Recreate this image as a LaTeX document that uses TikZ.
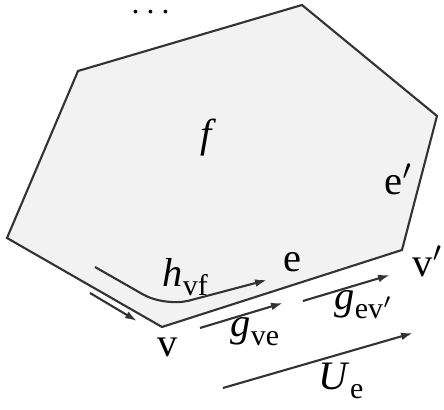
\documentclass[tikz,border=0pt]{standalone}
\usepackage{fontspec}
\setmainfont{Liberation Serif}
\usetikzlibrary{arrows.meta}
\newcommand{\lowsub}[1]{\raisebox{-0.45ex}{\fontsize{8.5}{9}\selectfont #1}}
\tikzset{
  lab/.style={inner sep=0pt, anchor=base west, font=\fontsize{11.5}{13}\selectfont},
  vec/.style={-{Latex[length=3.4pt,width=2.2pt]}, line width=0.6pt, black!80}
}
\begin{document}
\begin{tikzpicture}[x=0.01cm, y=-0.01cm]
\useasboundingbox (0,0) rectangle (444,410);
% face corners:
\coordinate (vl) at (7,238);
\coordinate (tl) at (78,71);
\coordinate (tp) at (302,5);
\coordinate (tr) at (437,116);
\coordinate (vp) at (402,250);
\coordinate (v) at (162,327);
\draw[line width=0.6pt, black!80, fill=black!5] (vl) -- (tl) -- (tp) -- (tr) -- (vp) -- (v) -- cycle;
% labels:
\node[lab, font=\fontsize{9}{10}\selectfont] (dots) at (131,14) {.\kern2pt.\kern2pt.};
\node[lab] (fl) at (200,148) {\textit{f}};
\node[lab] (epl) at (384,195) {e$'$};
\node[lab] (el) at (283,272) {e};
\node[lab] (vpl) at (412,277) {v$'$};
\node[lab] (vlab) at (157,357) {v};
\node[lab] (hl) at (162,287) {\textit{h}\lowsub{vf}};
\node[lab] (gvel) at (230,337) {\textit{g}\lowsub{ve}};
\node[lab] (gevl) at (334,310) {\textit{g}\lowsub{ev$'$}};
\node[lab] (ul) at (318,390) {\textit{U}\lowsub{e}};
% arrows:
\coordinate (a1) at (90,293);  \coordinate (b1) at (137,321);
\coordinate (a2) at (95,267);  \coordinate (k2) at (165,307); \coordinate (b2) at (267,280);
\coordinate (a3) at (200,328); \coordinate (b3) at (283,303);
\coordinate (a4) at (303,301); \coordinate (b4) at (390,275);
\coordinate (a5) at (223,388); \coordinate (b5) at (413,333);
\draw[vec] (a1) -- (b1);
\draw[vec, rounded corners=0.25cm] (a2) -- (k2) -- (b2);
\draw[vec] (a3) -- (b3);
\draw[vec] (a4) -- (b4);
\draw[vec] (a5) -- (b5);
\end{tikzpicture}
\end{document}
